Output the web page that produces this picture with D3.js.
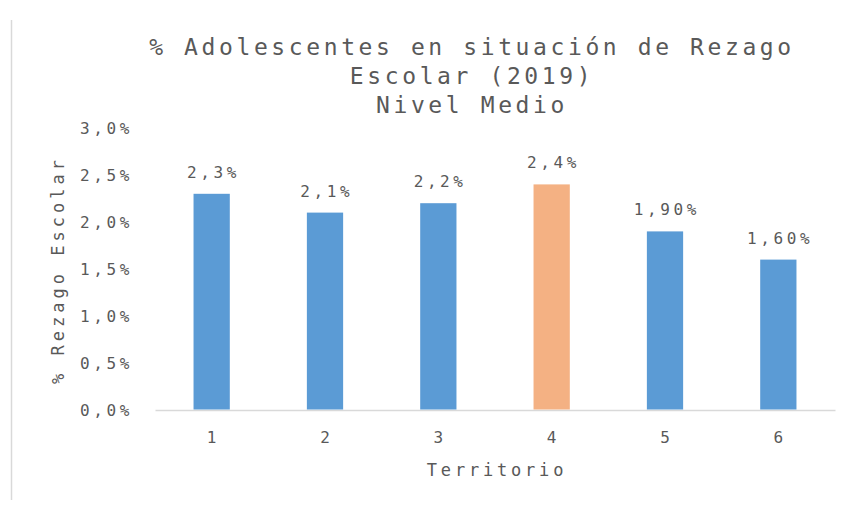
<!DOCTYPE html>
<html>
<head>
<meta charset="utf-8">
<script src="https://cdn.jsdelivr.net/npm/d3@7"></script>
<style>
  body { margin: 0; background: #fff; }
  svg text { font-family: "DejaVu Sans Mono", "Liberation Mono", monospace; fill: #595959; }
</style>
</head>
<body>
<svg width="849" height="505"></svg>
<script>
var territorios = ["1", "2", "3", "4", "5", "6"];
var rezago = [0.023, 0.021, 0.022, 0.024, 0.019, 0.016];
var etiquetas = ["2,3%", "2,1%", "2,2%", "2,4%", "1,90%", "1,60%"];
var colores = ["#5B9BD5", "#5B9BD5", "#5B9BD5", "#F4B183", "#5B9BD5", "#5B9BD5"];
var titulo = ["% Adolescentes en situación de Rezago", "Escolar (2019)", "Nivel Medio"];
var yTicks = [0, 0.005, 0.01, 0.015, 0.02, 0.025, 0.03];

var svg = d3.select("svg");
var margin = {left: 155, right: 14, top: 128, bottom: 95};
var width = 849 - margin.left - margin.right;
var height = 505 - margin.top - margin.bottom;

var locale = d3.formatLocale({decimal: ",", thousands: ".", grouping: [3], currency: ["$", ""]});
var fmt = locale.format(".1%");

// frame line on the left
svg.append("line")
    .attr("x1", 11.5).attr("x2", 11.5)
    .attr("y1", 20).attr("y2", 500)
    .attr("stroke", "#d9d9d9").attr("stroke-width", 1.5);

var g = svg.append("g")
    .attr("transform", "translate(" + margin.left + "," + margin.top + ")");

var x = d3.scaleBand()
    .domain(territorios)
    .range([0, width])
    .paddingInner(0.68)
    .paddingOuter(0.34);

var y = d3.scaleLinear()
    .domain([0, 0.03])
    .range([height, 0]);

// y axis labels only
var yAxis = d3.axisLeft(y).tickValues(yTicks).tickFormat(fmt).tickSize(0).tickPadding(0);
var yg = g.append("g").call(yAxis);
yg.select(".domain").remove();
yg.selectAll("text")
    .attr("x", -22)
    .style("font-size", "16px")
    .style("letter-spacing", "3.6px")
    .style("fill", "#595959");

// x axis
var xAxis = d3.axisBottom(x).tickSize(0).tickPadding(22);
var xg = g.append("g").attr("transform", "translate(0," + height + ")").call(xAxis);
xg.select(".domain").attr("stroke", "#d9d9d9").attr("stroke-width", 1.5);
xg.selectAll("text")
    .style("font-size", "16px")
    .style("fill", "#595959");

// bars
g.selectAll(".bar")
    .data(rezago)
    .enter()
    .append("rect")
    .attr("class", "bar")
    .attr("x", function(d, i) { return x(territorios[i]); })
    .attr("y", function(d) { return y(d); })
    .attr("width", x.bandwidth())
    .attr("height", function(d) { return height - y(d) - 0.5; })
    .attr("fill", function(d, i) { return colores[i]; });

// data labels
g.selectAll(".lbl")
    .data(rezago)
    .enter()
    .append("text")
    .attr("class", "lbl")
    .attr("x", function(d, i) { return x(territorios[i]) + x.bandwidth() / 2 + 1.8; })
    .attr("y", function(d) { return y(d) - 16; })
    .attr("text-anchor", "middle")
    .style("font-size", "16px")
    .style("letter-spacing", "3.6px")
    .text(function(d, i) { return etiquetas[i]; });

// title
svg.selectAll(".titulo")
    .data(titulo)
    .enter()
    .append("text")
    .attr("class", "titulo")
    .attr("x", 472)
    .attr("y", function(d, i) { return 55 + i * 29; })
    .attr("text-anchor", "middle")
    .style("font-size", "23px")
    .style("letter-spacing", "3.6px")
    .text(function(d) { return d; });

// axis titles
svg.append("text")
    .attr("x", 497)
    .attr("y", 476)
    .attr("text-anchor", "middle")
    .style("font-size", "17px")
    .style("letter-spacing", "3.8px")
    .text("Territorio");

svg.append("text")
    .attr("transform", "translate(64,270) rotate(-90)")
    .attr("text-anchor", "middle")
    .style("font-size", "17px")
    .style("letter-spacing", "4px")
    .text("% Rezago Escolar");
</script>
</body>
</html>
